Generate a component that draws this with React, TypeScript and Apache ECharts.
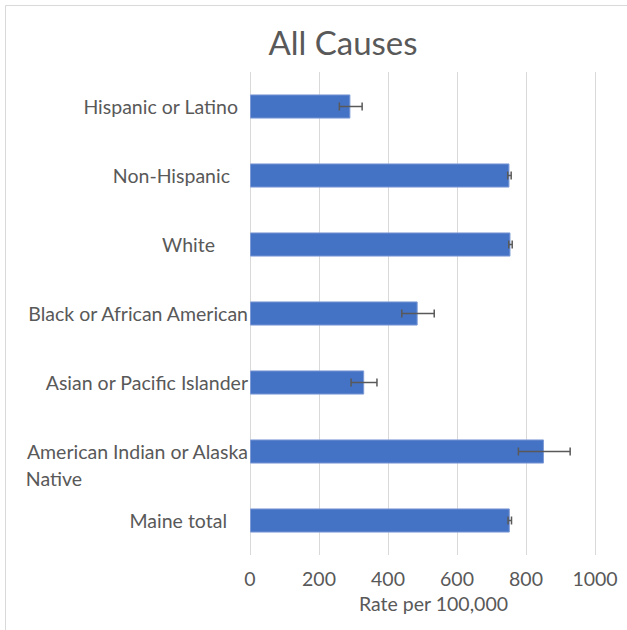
import React, { useEffect, useRef } from "react";
import * as echarts from "echarts";

const categories = [
  "Hispanic or Latino",
  "Non-Hispanic",
  "White",
  "Black or African American",
  "Asian or Pacific Islander",
  "American Indian or Alaska Native",
  "Maine total",
];
const rates = [291, 752, 755, 486, 331, 852, 753];
const lowerCI = [259, 747, 750, 440, 293, 778, 748];
const upperCI = [325, 757, 760, 534, 368, 928, 758];
const labelRightPad = [10, 18, 33, 0, 0, 0, 21];
const axisMin = 0;
const axisMax = 1000;
const axisInterval = 200;

const FONT = "Lato";
const TXT = "#595959";
const FS = 19.5;

export default function App() {
  const ref = useRef<HTMLDivElement>(null);
  useEffect(() => {
    if (!ref.current) return;
    const chart = echarts.init(ref.current, null, { renderer: "svg" });
    const rich: Record<string, any> = {
      e: { lineHeight: 27, fontSize: FS, fontFamily: FONT },
      n: { align: "left", color: TXT, fontSize: FS, fontFamily: FONT, lineHeight: 27 },
    };
    categories.forEach((_, i) => {
      rich["c" + i] = {
        color: TXT,
        fontSize: FS,
        fontFamily: FONT,
        lineHeight: 27,
        padding: [0, labelRightPad[i], 0, 0],
      };
    });
    const errData = categories.map((_, i) => [i, lowerCI[i], upperCI[i]]);
    chart.setOption({
      animation: false,
      backgroundColor: "#fff",
      title: {
        text: "All Causes",
        left: 338,
        top: 37,
        textAlign: "center",
        textVerticalAlign: "middle",
        textStyle: { fontFamily: FONT, fontSize: 33, fontWeight: "normal", color: TXT },
      },
      graphic: [
        {
          type: "rect",
          shape: { x: 5.5, y: 5.5, width: 640, height: 640 },
          style: { fill: "none", stroke: "#D9D9D9", lineWidth: 1 },
          silent: true,
        },
      ],
      grid: { left: 250, right: 32, top: 72, bottom: 75, containLabel: false },
      xAxis: {
        type: "value",
        min: axisMin,
        max: axisMax,
        interval: axisInterval,
        axisLine: { show: false },
        axisTick: { show: false },
        splitLine: { show: true, lineStyle: { color: "#D9D9D9", width: 1 } },
        axisLabel: {
          color: TXT,
          fontFamily: FONT,
          fontSize: FS,
          margin: 13,
          formatter: (v: number) => String(v),
        },
        name: "Rate per 100,000",
        nameLocation: "middle",
        nameGap: 38,
        nameTextStyle: { color: TXT, fontFamily: FONT, fontSize: FS, padding: [0, 0, 0, 22] },
      },
      yAxis: {
        type: "category",
        data: categories,
        inverse: true,
        axisLine: { show: false },
        axisTick: { show: false },
        axisLabel: {
          align: "right",
          margin: 2,
          interval: 0,
          formatter: (v: string) => {
            const i = categories.indexOf(v);
            if (v === "American Indian or Alaska Native") {
              return "{e|}\n{c" + i + "|American Indian or Alaska}\n{n|Native}";
            }
            return "{c" + i + "|" + v + "}";
          },
          rich,
        },
      },
      series: [
        {
          type: "bar",
          data: rates,
          barWidth: "35%",
          itemStyle: { color: "#4472C4", borderColor: "#7E9BD6", borderWidth: 1 },
        },
        {
          type: "custom",
          data: errData,
          z: 10,
          renderItem: (params: any, api: any) => {
            const idx = api.value(0);
            const lo = api.coord([api.value(1), idx]);
            const hi = api.coord([api.value(2), idx]);
            const cap = 4;
            const st = { stroke: "#595959", lineWidth: 1.5 };
            return {
              type: "group",
              children: [
                { type: "line", shape: { x1: lo[0], y1: lo[1], x2: hi[0], y2: hi[1] }, style: st },
                { type: "line", shape: { x1: lo[0], y1: lo[1] - cap, x2: lo[0], y2: lo[1] + cap }, style: st },
                { type: "line", shape: { x1: hi[0], y1: hi[1] - cap, x2: hi[0], y2: hi[1] + cap }, style: st },
              ],
            };
          },
        },
      ],
    });
    return () => chart.dispose();
  }, []);
  return (
    <div
      ref={ref}
      style={{ position: "fixed", left: 0, top: 0, width: 627, height: 630 }}
    />
  );
}
